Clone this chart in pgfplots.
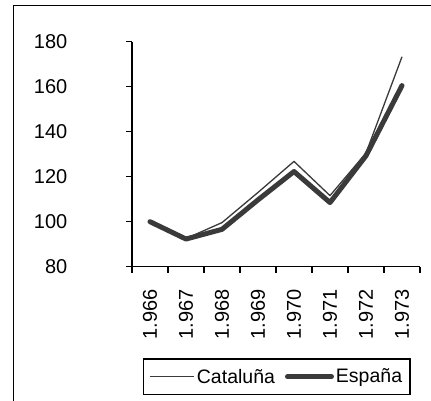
\documentclass[border=0pt]{standalone}
\usepackage{pgfplots}
\pgfplotsset{compat=1.18}
\usepackage{fontspec}
\setmainfont{Liberation Sans}
\definecolor{linegray}{HTML}{3A3A3A}
\begin{document}
\begin{tikzpicture}
\useasboundingbox (0pt,0pt) rectangle (431pt,401pt);
\fill[white] (0pt,0pt) rectangle (431pt,401pt);
\draw[black, line width=1.8pt] (13.5pt,-20pt) -- (13.5pt,395.5pt) -- (450pt,395.5pt);
\begin{axis}[
  at={(132pt,134.3pt)}, anchor=south west,
  scale only axis, width=288pt, height=225pt,
  xmin=0.5, xmax=8.5, ymin=80, ymax=180,
  axis x line*=bottom, axis y line*=left,
  axis line style={-, line width=1.4pt, black},
  xtick={1,2,3,4,5,6,7,8},
  xticklabels={1.966,1.967,1.968,1.969,1.970,1.971,1.972,1.973},
  major x tick style={draw=none},
  minor xtick={0.5,1.5,2.5,3.5,4.5,5.5,6.5,7.5,8.5},
  ytick={80,100,120,140,160,180},
  tick align=outside,
  major tick length=6pt, minor tick length=6pt,
  every tick/.style={black, line width=1.3pt},
  tick label style={font=\fontsize{20}{24}\selectfont},
  /pgf/number format/assume math mode=true,
  yticklabel style={anchor=east, inner sep=0pt, xshift=-58.5pt},
  xticklabel style={yshift=-16.6pt, rotate=90, anchor=east, inner sep=0pt},
  clip=false,
  legend columns=2,
  legend style={at={(0.503,-0.489)}, anchor=center, draw=black, line width=1.3pt,
    font=\fontsize{19.5}{23}\selectfont, inner xsep=6pt, inner ysep=8pt,
    /tikz/every even column/.append style={column sep=8pt}},
  legend image code/.code={\draw[#1] (0pt,0pt) -- (44pt,0pt);},
]
\addplot[linegray, line width=1.3pt, line join=round] coordinates {
  (1,100) (2,92.5) (3,99.6) (4,113) (5,126.8) (6,111.6) (7,130.5) (8,173.3)};
\addlegendentry{Cataluña}
\addplot[linegray, line width=5pt, line join=round, line cap=round] coordinates {
  (1,100) (2,92.3) (3,96.6) (4,109.7) (5,122.3) (6,108.5) (7,129.3) (8,160.5)};
\addlegendentry{España}
\end{axis}
\end{tikzpicture}
\end{document}
